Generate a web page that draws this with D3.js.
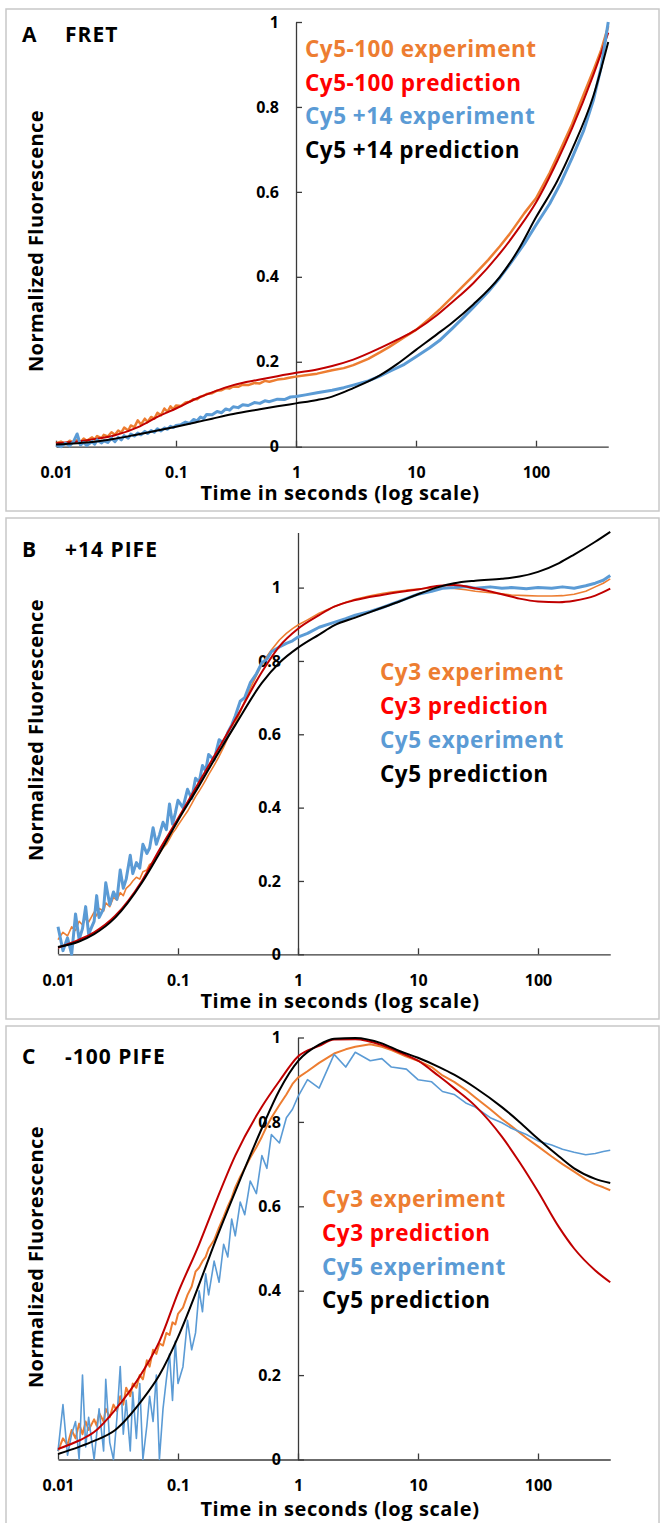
<!DOCTYPE html>
<html>
<head>
<meta charset="utf-8">
<script src="https://cdn.jsdelivr.net/npm/d3@7"></script>
<style>
  html, body { margin: 0; padding: 0; background: #fff; }
  svg { display: block; font-family: "Open Sans", Lato, sans-serif; }
</style>
</head>
<body>
<svg id="chart" width="663" height="1523"></svg>
<script>
// Time grids (seconds)
const timeExp = [0.01,0.011,0.012,0.013,0.014,0.015,0.016,0.017,0.018,0.02,
  0.021,0.022,0.024,0.025,0.027,0.029,0.031,0.033,0.035,0.037,
  0.04,0.042,0.045,0.048,0.051,0.055,0.058,0.062,0.066,0.07,
  0.075,0.08,0.085,0.09,0.095,0.1,0.11,0.12,0.13,0.14,
  0.15,0.16,0.17,0.18,0.2,0.22,0.24,0.26,0.28,0.3,
  0.33,0.36,0.4,0.45,0.5,0.55,0.6,0.7,0.8,0.9,
  1,1.2,1.5,2,2.5,3,4,5,6,8,
  10,13,16,20,25,30,40,50,60,80,
  100,130,160,200,250,300,350,400];
const timePred = [0.01,0.015,0.02,0.03,0.05,0.07,0.1,0.15,0.2,0.3,0.5,0.7,1,1.5,2,3,5,7,10,15,20,30,50,70,100,150,200,300,400];

const xTicks = [0.01, 0.1, 1, 10, 100];
const xTickLabels = ['0.01', '0.1', '1', '10', '100'];
const yTicks = [0, 0.2, 0.4, 0.6, 0.8, 1];
const yTickLabels = ['0', '0.2', '0.4', '0.6', '0.8', '1'];

// Panel A: FRET
const fretCy5m100Exp = [0.008,0.012,0.006,0.014,0.010,0.016,0.011,0.019,0.014,0.022,
  0.017,0.025,0.020,0.028,0.024,0.034,0.028,0.038,0.033,0.045,
  0.038,0.050,0.046,0.062,0.052,0.066,0.058,0.070,0.066,0.080,
  0.074,0.090,0.082,0.095,0.088,0.097,0.096,0.104,0.106,0.112,
  0.112,0.118,0.120,0.124,0.126,0.132,0.133,0.138,0.137,0.142,
  0.141,0.146,0.145,0.150,0.149,0.155,0.153,0.158,0.160,0.163,
  0.165,0.168,0.172,0.180,0.185,0.192,0.207,0.222,0.235,0.258,
  0.275,0.302,0.325,0.352,0.380,0.402,0.440,0.472,0.500,0.550,
  0.585,0.645,0.700,0.760,0.830,0.885,0.935,0.990];
const fretCy5m100Pred = [0.008,0.012,0.017,0.026,0.048,0.07,0.09,0.114,0.128,0.145,0.158,0.166,0.174,0.182,0.19,0.205,0.232,0.252,0.275,0.31,0.34,0.385,0.455,0.51,0.575,0.672,0.75,0.875,0.975];
const fretCy5p14Exp = [0.004,0.000,0.008,0.002,0.012,0.030,0.004,0.010,0.003,0.012,
  0.006,0.016,0.009,0.014,0.010,0.020,0.012,0.022,0.016,0.026,
  0.020,0.030,0.025,0.032,0.028,0.036,0.031,0.038,0.034,0.042,
  0.037,0.044,0.041,0.048,0.045,0.050,0.052,0.058,0.055,0.064,
  0.061,0.070,0.066,0.076,0.075,0.083,0.080,0.089,0.086,0.094,
  0.092,0.099,0.097,0.104,0.102,0.108,0.106,0.112,0.111,0.117,
  0.118,0.122,0.127,0.133,0.139,0.145,0.155,0.166,0.177,0.194,
  0.212,0.233,0.252,0.278,0.305,0.328,0.365,0.398,0.428,0.478,
  0.522,0.572,0.620,0.680,0.745,0.815,0.895,1.000];
const fretCy5p14Pred = [0.005,0.008,0.011,0.018,0.03,0.038,0.047,0.058,0.066,0.077,0.088,0.095,0.102,0.11,0.118,0.138,0.168,0.195,0.228,0.265,0.292,0.335,0.4,0.46,0.54,0.625,0.7,0.825,0.953];

// Panel B: +14 PIFE
const pife14Cy3Exp = [0.040,0.060,0.050,0.075,0.065,0.090,0.080,0.100,0.088,0.115,
  0.105,0.125,0.118,0.140,0.130,0.155,0.148,0.168,0.160,0.180,
  0.190,0.200,0.210,0.205,0.225,0.230,0.245,0.250,0.265,0.275,
  0.290,0.300,0.315,0.330,0.340,0.352,0.372,0.390,0.410,0.430,
  0.445,0.460,0.475,0.490,0.515,0.540,0.565,0.590,0.610,0.630,
  0.660,0.690,0.725,0.760,0.790,0.812,0.830,0.857,0.875,0.888,
  0.898,0.912,0.930,0.948,0.960,0.968,0.978,0.984,0.988,0.993,
  0.996,0.999,1.000,0.998,0.994,0.990,0.986,0.983,0.980,0.978,
  0.977,0.977,0.978,0.982,0.990,1.002,1.012,1.024];
const pife14Cy3Pred = [0.018,0.04,0.06,0.105,0.2,0.285,0.37,0.47,0.54,0.64,0.77,0.84,0.888,0.925,0.948,0.966,0.98,0.988,0.995,1.005,1.007,0.998,0.982,0.97,0.962,0.96,0.964,0.978,0.997];
const pife14Cy5Exp = [0.075,0.010,0.045,0.000,0.110,0.040,0.070,0.130,0.055,0.090,
  0.160,0.100,0.125,0.195,0.135,0.170,0.150,0.230,0.180,0.205,
  0.270,0.220,0.250,0.235,0.300,0.275,0.290,0.345,0.300,0.325,
  0.360,0.340,0.410,0.355,0.385,0.420,0.400,0.450,0.425,0.480,
  0.470,0.515,0.500,0.545,0.530,0.585,0.575,0.605,0.625,0.650,
  0.690,0.700,0.740,0.765,0.795,0.805,0.825,0.838,0.848,0.855,
  0.865,0.875,0.892,0.905,0.915,0.925,0.935,0.945,0.955,0.970,
  0.982,0.990,0.998,1.000,1.003,0.998,1.002,0.998,1.000,0.997,
  1.000,0.998,1.002,0.998,1.005,1.012,1.020,1.033];
const pife14Cy5Pred = [0.02,0.035,0.055,0.1,0.195,0.275,0.365,0.46,0.53,0.625,0.74,0.795,0.836,0.872,0.897,0.918,0.945,0.962,0.982,1.002,1.012,1.019,1.024,1.03,1.043,1.067,1.09,1.125,1.152];

// Panel C: -100 PIFE
const pife100Cy3Exp = [0.020,0.050,0.035,0.070,0.050,0.085,0.060,0.090,0.070,0.095,
  0.080,0.110,0.090,0.120,0.100,0.130,0.115,0.150,0.130,0.170,
  0.150,0.180,0.170,0.200,0.190,0.235,0.220,0.260,0.250,0.275,
  0.270,0.300,0.295,0.325,0.320,0.345,0.360,0.390,0.410,0.445,
  0.455,0.470,0.480,0.500,0.520,0.550,0.575,0.600,0.620,0.645,
  0.670,0.690,0.715,0.740,0.765,0.790,0.810,0.840,0.865,0.890,
  0.905,0.920,0.940,0.962,0.972,0.978,0.984,0.978,0.970,0.955,
  0.945,0.930,0.910,0.895,0.876,0.858,0.830,0.807,0.790,0.762,
  0.742,0.718,0.700,0.682,0.664,0.652,0.645,0.638];
const pife100Cy3Pred = [0.025,0.045,0.065,0.118,0.205,0.28,0.395,0.51,0.6,0.72,0.836,0.897,0.955,0.98,0.995,0.996,0.982,0.965,0.945,0.908,0.88,0.838,0.765,0.705,0.635,0.55,0.5,0.448,0.42];
const pife100Cy5Exp = [0.020,0.130,0.010,0.060,0.090,0.000,0.200,0.030,0.100,0.000,
  0.060,0.120,0.020,0.190,0.040,0.000,0.100,0.220,0.060,0.140,
  0.020,0.160,0.050,0.180,0.000,0.080,0.150,0.090,0.200,0.000,
  0.120,0.190,0.250,0.140,0.280,0.180,0.220,0.330,0.260,0.300,
  0.400,0.350,0.440,0.390,0.470,0.420,0.510,0.480,0.570,0.530,
  0.610,0.580,0.660,0.630,0.720,0.690,0.770,0.750,0.810,0.830,
  0.860,0.900,0.880,0.960,0.930,0.965,0.945,0.950,0.930,0.925,
  0.900,0.895,0.872,0.865,0.845,0.835,0.810,0.798,0.785,0.770,
  0.755,0.745,0.735,0.728,0.722,0.725,0.730,0.733];
const pife100Cy5Pred = [0.013,0.03,0.044,0.07,0.14,0.2,0.29,0.415,0.51,0.635,0.785,0.875,0.944,0.983,0.997,0.999,0.986,0.968,0.952,0.93,0.912,0.881,0.835,0.8,0.76,0.718,0.69,0.665,0.655];

const ORANGE = '#ED7D31', RED_TXT = '#FF0000', RED_LINE = '#C00000', BLUE = '#5B9BD5', BLACK = '#000';

const panels = [
  {
    box: [6, 9, 653, 502], x0: 56, yBottom: 446.7, yTop: 22, yMax: 1,
    letter: 'A', title: 'FRET', titleY: 42, xTitleY: 500, yTitleY: 241,
    legendX: 305, legendY: [57, 91, 124, 158],
    legend: [['Cy5-100 experiment', ORANGE], ['Cy5-100 prediction', RED_TXT], ['Cy5 +14 experiment', BLUE], ['Cy5 +14 prediction', BLACK]],
    series: [
      { t: timeExp, v: fretCy5m100Exp, color: ORANGE, w: 2.5, curve: d3.curveLinear },
      { t: timePred, v: fretCy5m100Pred, color: RED_LINE, w: 2, curve: d3.curveMonotoneX },
      { t: timeExp, v: fretCy5p14Exp, color: BLUE, w: 3, curve: d3.curveLinear },
      { t: timePred, v: fretCy5p14Pred, color: BLACK, w: 2, curve: d3.curveMonotoneX }
    ]
  },
  {
    box: [6, 518, 653, 501], x0: 58, yBottom: 954.3, yTop: 532.6, yMax: 1.15,
    letter: 'B', title: '+14 PIFE', titleY: 557, xTitleY: 1008, yTitleY: 730,
    legendX: 380, legendY: [680, 714, 748, 782],
    legend: [['Cy3 experiment', ORANGE], ['Cy3 prediction', RED_TXT], ['Cy5 experiment', BLUE], ['Cy5 prediction', BLACK]],
    series: [
      { t: timeExp, v: pife14Cy3Exp, color: ORANGE, w: 1.6, curve: d3.curveLinear },
      { t: timeExp, v: pife14Cy5Exp, color: BLUE, w: 3, curve: d3.curveLinear },
      { t: timePred, v: pife14Cy3Pred, color: RED_LINE, w: 2, curve: d3.curveMonotoneX },
      { t: timePred, v: pife14Cy5Pred, color: BLACK, w: 2, curve: d3.curveMonotoneX }
    ]
  },
  {
    box: [6, 1026, 653, 520], x0: 58, yBottom: 1459.5, yTop: 1037.5, yMax: 1,
    letter: 'C', title: '-100 PIFE', titleY: 1064, xTitleY: 1516, yTitleY: 1257,
    legendX: 322, legendY: [1207, 1241, 1275, 1308],
    legend: [['Cy3 experiment', ORANGE], ['Cy3 prediction', RED_TXT], ['Cy5 experiment', BLUE], ['Cy5 prediction', BLACK]],
    series: [
      { t: timeExp, v: pife100Cy3Exp, color: ORANGE, w: 2, curve: d3.curveLinear },
      { t: timeExp, v: pife100Cy5Exp, color: BLUE, w: 1.6, curve: d3.curveLinear },
      { t: timePred, v: pife100Cy3Pred, color: RED_LINE, w: 2, curve: d3.curveMonotoneX },
      { t: timePred, v: pife100Cy5Pred, color: BLACK, w: 2, curve: d3.curveMonotoneX }
    ]
  }
];

const svg = d3.select('#chart');
const PX_PER_DECADE = 120;

panels.forEach(p => {
  const g = svg.append('g');

  // Panel frame
  g.append('rect')
    .attr('x', p.box[0]).attr('y', p.box[1])
    .attr('width', p.box[2]).attr('height', p.box[3])
    .attr('fill', '#fff')
    .attr('stroke', '#c8c8c8')
    .attr('stroke-width', 1.5);

  // Scales
  const x = d3.scaleLog()
    .domain([0.01, 400])
    .range([p.x0, p.x0 + PX_PER_DECADE * Math.log10(400 / 0.01)]);
  const y = d3.scaleLinear()
    .domain([0, p.yMax])
    .range([p.yBottom, p.yTop]);

  // X axis
  const xAxis = d3.axisBottom(x)
    .tickValues(xTicks)
    .tickFormat((d, i) => xTickLabels[i])
    .tickSizeInner(-6)
    .tickSizeOuter(0)
    .tickPadding(20);
  g.append('g')
    .attr('transform', `translate(0,${y(0)})`)
    .call(xAxis)
    .call(axisStyle);

  // Y axis crossing at t = 1
  const yAxis = d3.axisLeft(y)
    .tickValues(yTicks)
    .tickFormat((d, i) => yTickLabels[i])
    .tickSizeInner(-6)
    .tickSizeOuter(0)
    .tickPadding(17);
  g.append('g')
    .attr('transform', `translate(${x(1)},0)`)
    .call(yAxis)
    .call(axisStyle);

  // Series
  p.series.forEach(s => {
    const line = d3.line()
      .x((d, i) => x(s.t[i]))
      .y(d => y(d))
      .curve(s.curve);
    g.append('path')
      .datum(s.v)
      .attr('d', line)
      .attr('fill', 'none')
      .attr('stroke', s.color)
      .attr('stroke-width', s.w)
      .attr('stroke-linejoin', 'round');
  });

  // Axis titles
  g.append('text')
    .attr('x', 340).attr('y', p.xTitleY)
    .attr('text-anchor', 'middle')
    .attr('font-size', 20).attr('font-weight', 700)
    .attr('letter-spacing', 0.6)
    .text('Time in seconds (log scale)');

  g.append('text')
    .attr('transform', `translate(43,${p.yTitleY}) rotate(-90)`)
    .attr('text-anchor', 'middle')
    .attr('font-size', 20).attr('font-weight', 700)
    .attr('letter-spacing', 0.45)
    .text('Normalized Fluorescence');

  // Panel label
  g.append('text')
    .attr('x', 22).attr('y', p.titleY)
    .attr('font-size', 21).attr('font-weight', 700)
    .text(p.letter);
  g.append('text')
    .attr('x', 65).attr('y', p.titleY)
    .attr('font-size', 21).attr('font-weight', 700)
    .attr('letter-spacing', 1)
    .text(p.title);

  // Legend
  g.selectAll('text.legend')
    .data(p.legend)
    .enter()
    .append('text')
    .attr('class', 'legend')
    .attr('x', p.legendX)
    .attr('y', (d, i) => p.legendY[i])
    .attr('font-size', 22.5).attr('font-weight', 700)
    .attr('letter-spacing', 0.5)
    .attr('fill', d => d[1])
    .text(d => d[0]);
});

function axisStyle(sel) {
  sel.selectAll('path.domain').attr('stroke', '#3a3a3a').attr('stroke-width', 1.3);
  sel.selectAll('.tick line').attr('stroke', '#3a3a3a').attr('stroke-width', 1.3);
  sel.selectAll('.tick text')
    .attr('fill', '#000')
    .attr('font-size', 16)
    .attr('font-weight', 700)
    .attr('font-family', '"Open Sans", Lato, sans-serif');
}
</script>
</body>
</html>
